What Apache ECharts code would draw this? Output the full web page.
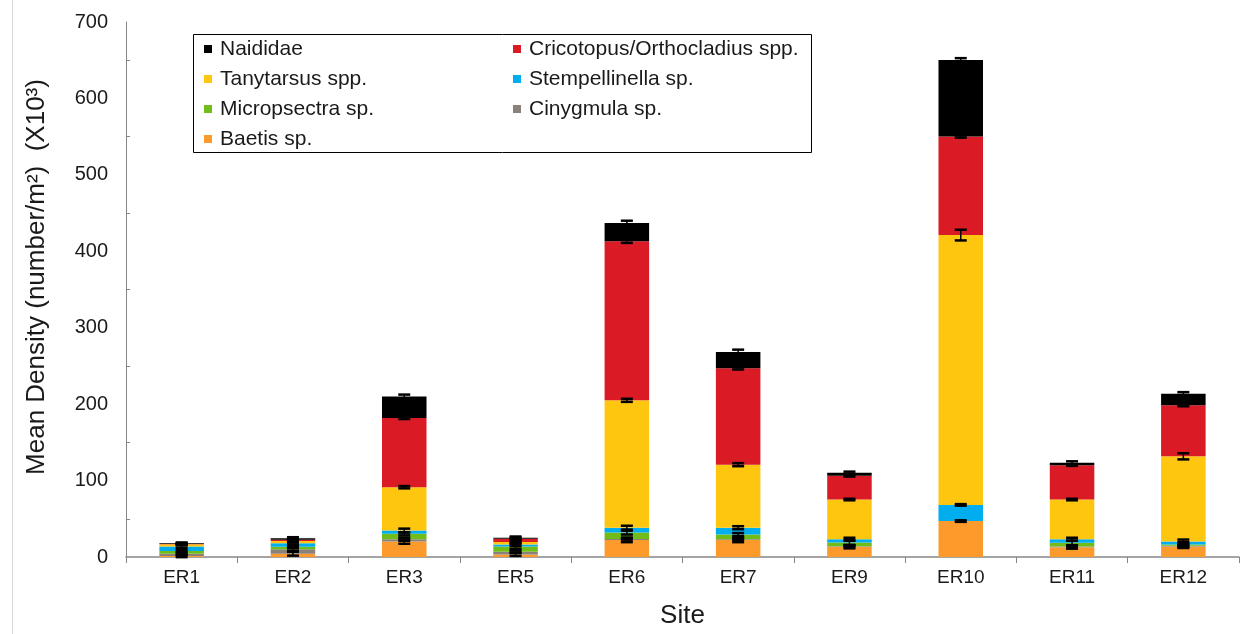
<!DOCTYPE html>
<html>
<head>
<meta charset="utf-8">
<script src="https://cdn.jsdelivr.net/npm/echarts@6/dist/echarts.min.js"></script>
<style>
html,body{margin:0;padding:0;background:#fff;}
#chart{width:1248px;height:634px;}
</style>
</head>
<body>
<div id="chart"></div>
<script>
// ---- data ----
const sites = ['ER1','ER2','ER3','ER5','ER6','ER7','ER9','ER10','ER11','ER12'];
const seriesNames = ['Baetis sp.','Cinygmula sp.','Micropsectra sp.','Stempellinella sp.','Tanytarsus spp.','Cricotopus/Orthocladius spp.','Naididae'];

const baetis         = [1.3, 4.3, 20.3, 3.4, 22.4, 22.4, 13.3, 47, 12.9, 13.8];
const cinygmula      = [3, 6, 3, 3.4, 1.3, 0.9, 0.9, 0, 0.9, 0.9];
const micropsectra   = [3.4, 3, 7, 6.9, 8.2, 6, 4.7, 0, 4.7, 1.7];
const stempellinella = [6, 4.7, 4.3, 2.6, 6.5, 9, 4.3, 21.2, 4.7, 3.9];
const tanytarsus     = [3, 3, 56.7, 3.4, 166.6, 82.5, 52, 353, 52, 111.4];
const cricotopus     = [0.3, 1.7, 90.7, 4.3, 208, 126, 31, 129, 45, 67];
const naididae       = [1, 1.7, 28, 1.3, 24, 21.5, 4, 100, 3, 15];

// standard errors (estimated)
const baetisErr         = [1.5, 2.5, 3, 2, 3, 3, 2, 1, 2, 2];
const cinygmulaErr      = [1.5, 2, 2, 1.5, 1, 1, 1, 0, 1.5, 1.5];
const micropsectraErr   = [1.5, 1.5, 2, 3, 2.5, 2, 3, 0, 3, 3];
const stempellinellaErr = [2, 1.5, 2.5, 2, 2.5, 2, 2, 1, 2, 2.5];
const tanytarsusErr     = [1.5, 1.5, 1.5, 1.5, 2, 2, 1, 7, 1, 4];
const cricotopusErr     = [0.5, 1, 1.5, 1.5, 2, 1.5, 1, 1.5, 1, 1.5];
const naididaeErr       = [1, 1.5, 2.5, 1.5, 3, 3, 1.5, 2.5, 2, 2];

const yTicks = [0, 100, 200, 300, 400, 500, 600, 700];

const values = [baetis, cinygmula, micropsectra, stempellinella, tanytarsus, cricotopus, naididae];
const errors = [baetisErr, cinygmulaErr, micropsectraErr, stempellinellaErr, tanytarsusErr, cricotopusErr, naididaeErr];
const colors = ['#FC9B2C','#8A8178','#72BC1A','#00AEEF','#FFC610','#DA1A25','#000000'];

// error-bar data: [siteIndex, cumulative top, err]
const errData = [];
sites.forEach((s, i) => {
  let cum = 0;
  values.forEach((arr, k) => {
    cum += arr[i];
    if (arr[i] > 0 && errors[k][i] > 0) errData.push([i, cum, errors[k][i]]);
  });
});

const FONT = 'Liberation Sans, Arial, sans-serif';
const TXT = '#1a1a1a';

const chart = echarts.init(document.getElementById('chart'));
const barSeries = seriesNames.map((n, k) => ({
  name: n,
  type: 'bar',
  stack: 'total',
  barWidth: '40%',
  itemStyle: { color: colors[k] },
  data: values[k],
  z: 2
}));

barSeries.push({
  type: 'custom',
  name: 'err',
  z: 5,
  silent: true,
  data: errData,
  renderItem: function (params, api) {
    const x = api.value(0), y = api.value(1), e = api.value(2);
    const hi = api.coord([x, y + e]);
    const lo = api.coord([x, y - e]);
    const hw = 6;
    const cap = { stroke: '#000', lineWidth: 2.5 };
    const vl = { stroke: '#000', lineWidth: 1.5 };
    return {
      type: 'group',
      children: [
        { type: 'line', shape: { x1: hi[0], y1: hi[1], x2: lo[0], y2: lo[1] }, style: vl },
        { type: 'line', shape: { x1: hi[0] - hw, y1: hi[1], x2: hi[0] + hw, y2: hi[1] }, style: cap },
        { type: 'line', shape: { x1: lo[0] - hw, y1: lo[1], x2: lo[0] + hw, y2: lo[1] }, style: cap }
      ]
    };
  }
});

const legendCommon = {
  orient: 'vertical',
  icon: 'rect',
  itemWidth: 8,
  itemHeight: 8,
  itemGap: 8,
  selectedMode: false,
  textStyle: { fontFamily: FONT, fontSize: 21, color: TXT, lineHeight: 22, padding: [0, 0, 0, 3] }
};

chart.setOption({
  animation: false,
  backgroundColor: '#fff',
  textStyle: { fontFamily: FONT },
  grid: { left: 126, right: 9, top: 22, bottom: 70, show: false },
  legend: [
    Object.assign({}, legendCommon, { left: 199, top: 33, data: ['Naididae','Tanytarsus spp.','Micropsectra sp.','Baetis sp.'] }),
    Object.assign({}, legendCommon, { left: 508, top: 33, data: ['Cricotopus/Orthocladius spp.','Stempellinella sp.','Cinygmula sp.'] })
  ],
  graphic: [
    { type: 'rect', shape: { x: 193.5, y: 34.5, width: 618, height: 118 }, style: { fill: 'none', stroke: '#000', lineWidth: 1 }, z: 10 },
    { type: 'line', shape: { x1: 12.5, y1: 0, x2: 12.5, y2: 634 }, style: { stroke: '#d9d9d9', lineWidth: 1 } },
    { type: 'text', x: 37, y: 277, rotation: Math.PI / 2,
      style: { text: 'Mean Density (number/m²)  (X10³)', fontFamily: FONT, fontSize: 26, fill: TXT, align: 'center', verticalAlign: 'middle' } }
  ],
  xAxis: {
    type: 'category',
    data: sites,
    name: 'Site',
    nameLocation: 'middle',
    nameGap: 46,
    nameTextStyle: { fontFamily: FONT, fontSize: 26, color: TXT },
    axisLine: { lineStyle: { color: '#868686', width: 1.5 } },
    axisTick: { show: true, length: 6, lineStyle: { color: '#868686' } },
    axisLabel: { fontFamily: FONT, fontSize: 19, color: TXT, margin: 11 }
  },
  yAxis: {
    type: 'value',
    min: 0,
    max: 700,
    interval: 100,
    axisLine: { show: true, lineStyle: { color: '#868686', width: 1 } },
    axisTick: { show: false, inside: true },
    minorTick: { show: true, splitNumber: 2, length: 4, lineStyle: { color: '#868686' } },
    splitLine: { show: false },
    axisLabel: { fontFamily: FONT, fontSize: 20, color: TXT, margin: 18,
      formatter: v => (yTicks.indexOf(v) >= 0 ? String(v) : '') }
  },
  series: barSeries
});
</script>
</body>
</html>
